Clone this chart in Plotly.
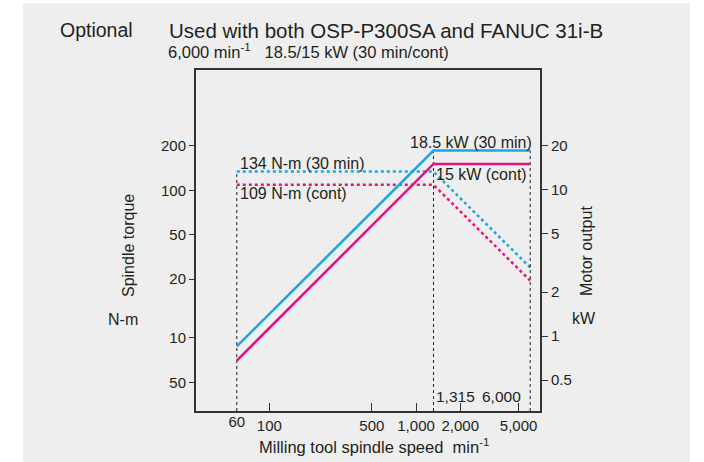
import math
import plotly.graph_objects as go

# ---- data ----
speed = [60, 1315, 6000]                 # min^-1
power_30min = [0.85, 18.5, 18.5]         # kW
power_cont = [0.68, 15, 15]              # kW
torque_30min = [134, 134, 30]            # N-m
torque_cont = [109, 109, 24.5]           # N-m
x_tick_vals = [100, 500, 1000, 2000, 5000]
x_tick_text = ["100", "500", "1,000", "2,000", "5,000"]
yl_tick_vals = [5, 10, 25, 50, 100, 200]
yl_tick_text = ["50", "10", "20", "50", "100", "200"]
yr_tick_vals = [0.5, 1, 2, 5, 10, 20]
yr_tick_text = ["0.5", "1", "2", "5", "10", "20"]

BLUE = "#1ea5e0"
MAG = "#e5127e"
TXT = "#231f20"
AX = "#333333"
FONT = "Liberation Sans, Arial, sans-serif"

W, H = 704, 462
L, R, T, B = 196, 540, 70, 411
XR = [1.5, 3.845]
YL = [0.505, 2.0 + (190.3 - T) / 147.5]
YR = [-0.512, 1.0 + (190 - T) / 146.7]


def px(x):
    return (x - L) / (R - L)


def py(y):
    return (B - y) / (B - T)


fig = go.Figure()

# vertical dashed reference lines
ybot = 10 ** YL[0]
ybot2 = 10 ** YR[0]
fig.add_trace(go.Scatter(x=[speed[0], speed[0]], y=[ybot, torque_30min[0]], mode="lines",
                         line=dict(color=TXT, width=1, dash="3px,3px"), yaxis="y", hoverinfo="skip"))
fig.add_trace(go.Scatter(x=[speed[1], speed[1]], y=[ybot2, power_30min[1]], mode="lines",
                         line=dict(color=TXT, width=1, dash="3px,3px"), yaxis="y2", hoverinfo="skip"))
fig.add_trace(go.Scatter(x=[speed[2], speed[2]], y=[ybot2, power_30min[2]], mode="lines",
                         line=dict(color=TXT, width=1, dash="3px,3px"), yaxis="y2", hoverinfo="skip"))

# torque (dotted) on left axis
fig.add_trace(go.Scatter(x=speed, y=torque_30min, mode="lines", yaxis="y",
                         line=dict(color=BLUE, width=2.5, dash="3px,3px")))
fig.add_trace(go.Scatter(x=speed, y=torque_cont, mode="lines", yaxis="y",
                         line=dict(color=MAG, width=2.5, dash="3px,3px")))
# power (solid) on right axis
fig.add_trace(go.Scatter(x=speed, y=power_30min, mode="lines", yaxis="y2",
                         line=dict(color=BLUE, width=2.5)))
fig.add_trace(go.Scatter(x=speed, y=power_cont, mode="lines", yaxis="y2",
                         line=dict(color=MAG, width=2.5)))
# invisible trace for the extra "60" label axis
fig.add_trace(go.Scatter(x=[speed[0]], y=[torque_cont[0]], xaxis="x2", yaxis="y",
                         mode="markers", marker=dict(opacity=0), hoverinfo="skip"))

tickfont = dict(family=FONT, size=15, color=TXT)

fig.update_layout(
    width=W, height=H, autosize=False,
    margin=dict(l=L, r=W - R, t=T, b=H - B, pad=0),
    paper_bgcolor="white", plot_bgcolor="rgba(0,0,0,0)",
    showlegend=False,
    font=dict(family=FONT, color=TXT),
    xaxis=dict(type="log", range=XR, tickvals=x_tick_vals, ticktext=x_tick_text,
               ticks="inside", ticklen=8, tickwidth=1.3, tickcolor=AX,
               showline=True, linewidth=2, linecolor=AX, mirror=True,
               showgrid=False, zeroline=False, tickfont=tickfont),
    xaxis2=dict(type="log", range=XR, overlaying="x", anchor="y", side="bottom",
                tickvals=[speed[0]], ticktext=["60"], ticks="", showline=False,
                showgrid=False, zeroline=False, tickfont=tickfont),
    yaxis=dict(type="log", range=YL, tickvals=yl_tick_vals, ticktext=yl_tick_text,
               ticks="outside", ticklen=5, tickwidth=1.3, tickcolor=AX,
               showline=True, linewidth=2, linecolor=AX,
               showgrid=False, zeroline=False, tickfont=tickfont),
    yaxis2=dict(type="log", range=YR, overlaying="y", side="right", anchor="x",
                tickvals=yr_tick_vals, ticktext=yr_tick_text,
                ticks="outside", ticklen=6, tickwidth=1.3, tickcolor=AX,
                showline=True, linewidth=2, linecolor=AX,
                showgrid=False, zeroline=False, tickfont=tickfont),
)

# gray panel behind everything
fig.add_shape(type="rect", xref="paper", yref="paper",
              x0=px(23), x1=px(690), y0=py(H + 2), y1=py(3),
              fillcolor="#eeeeee", line=dict(width=0), layer="below")


def ann(text, x, y, xanchor="left", yanchor="middle", size=16, angle=0):
    fig.add_annotation(text=text, xref="paper", yref="paper", x=px(x), y=py(y),
                       xanchor=xanchor, yanchor=yanchor, showarrow=False,
                       textangle=angle, font=dict(family=FONT, size=size, color=TXT))


NB = "\u00a0"
ann("Optional", 58, 30, size=19.5)
ann("Used with both OSP-P300SA and FANUC 31i-B", 167, 30, size=20.5)
ann("6,000 min<sup>-1</sup>" + NB * 3 + "18.5/15 kW (30 min/cont)", 166, 51, size=16.5)
ann("Spindle torque", 128, 246, xanchor="center", angle=-90, size=16)
ann("N-m", 123, 319, xanchor="center", size=16)
ann("Motor output", 586, 251, xanchor="center", angle=-90, size=16)
ann("kW", 584, 318, xanchor="center", size=16)
ann("Milling tool spindle speed" + NB * 2 + "min<sup>-1</sup>", 374, 446, xanchor="center", size=16.5)


def dann(text, x, y, yref, xanchor, yanchor, xshift=0, yshift=0):
    fig.add_annotation(text=text, xref="x", yref=yref, x=math.log10(x), y=math.log10(y),
                       xanchor=xanchor, yanchor=yanchor, xshift=xshift, yshift=yshift,
                       showarrow=False, font=dict(family=FONT, size=16, color=TXT))


dann("134 N-m (30 min)", speed[0], torque_30min[0], "y", "left", "bottom", 1, -2)
dann("109 N-m (cont)", speed[0], torque_cont[0], "y", "left", "top", 1, 2)
dann("18.5 kW (30 min)", speed[2], power_30min[2], "y2", "right", "bottom", 4, -2)
dann("15 kW (cont)", speed[1], power_cont[1], "y2", "left", "top", 1, 0)

for txt, xv, xa, xs in [("1,315", speed[1], "left", 1), ("6,000", speed[2], "right", -7)]:
    fig.add_annotation(text=txt, xref="x", yref="paper", x=math.log10(xv), y=py(396),
                       xanchor=xa, yanchor="middle", xshift=xs, showarrow=False,
                       font=dict(family=FONT, size=15.5, color=TXT))

fig.write_html("out.html", config={"displayModeBar": False},
               post_script="document.body.style.margin='0px';")
